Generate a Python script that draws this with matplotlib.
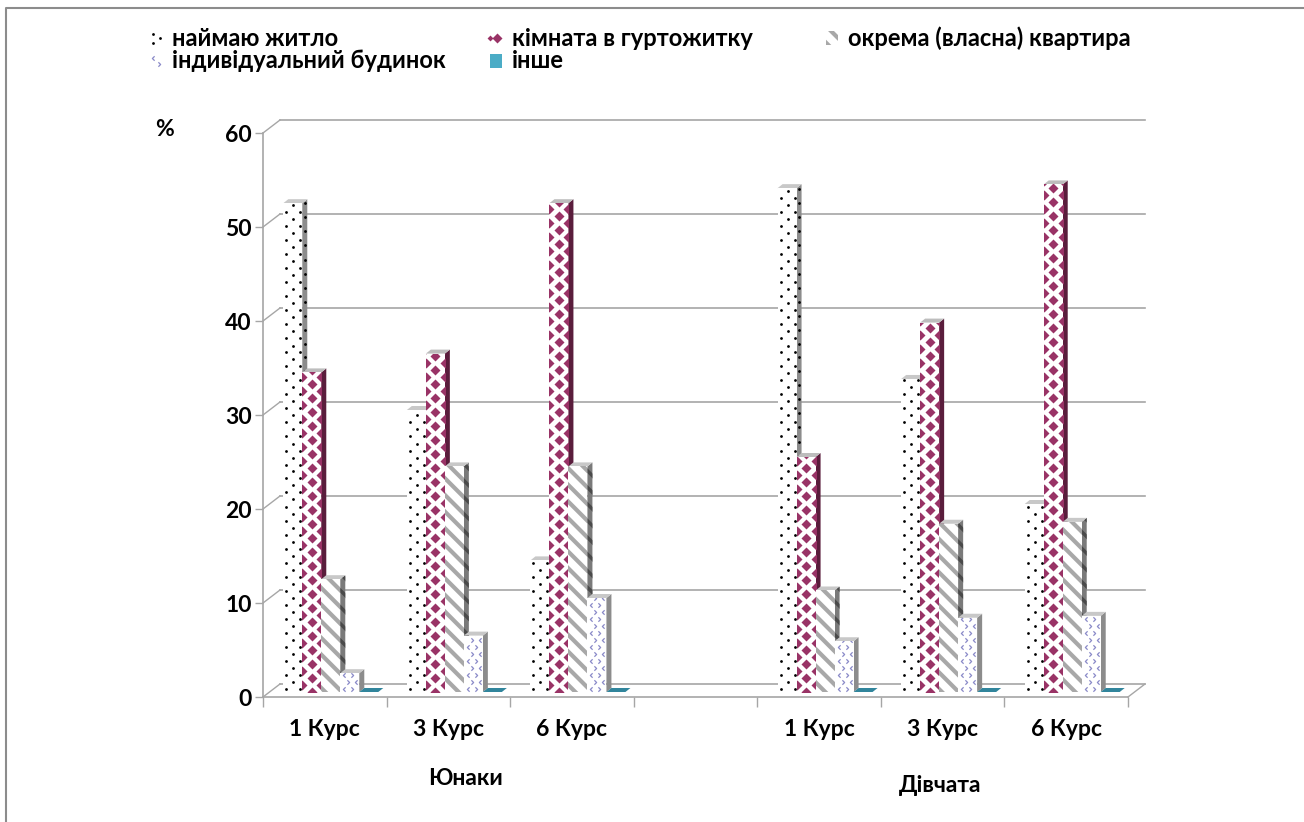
import numpy as np
import matplotlib
matplotlib.use("Agg")
import matplotlib.pyplot as plt
from matplotlib.patches import Polygon, Rectangle
from matplotlib.path import Path

plt.rcParams['font.family'] = ['Lato', 'DejaVu Sans']
plt.rcParams['font.weight'] = 'bold'

# ---------------- data ----------------
categories = ["1 Курс", "3 Курс", "6 Курс", "", "1 Курс", "3 Курс", "6 Курс"]
group_labels = ["Юнаки", "Дівчата"]
series_labels = ["наймаю житло", "кімната в гуртожитку",
                 "окрема (власна) квартира", "індивідуальний будинок", "інше"]
rent_housing = [52, 30, 14, np.nan, 53.6, 33.3, 20]
dorm_room = [34, 36, 52, np.nan, 25, 39.3, 54]
own_flat = [12, 24, 24, np.nan, 10.8, 17.9, 18.1]
private_house = [2, 6, 10, np.nan, 5.4, 7.9, 8.1]
other = [0, 0, 0, np.nan, 0, 0, 0]
y_ticks = [0, 10, 20, 30, 40, 50, 60]
y_unit = "%"

series = [rent_housing, dorm_room, own_flat, private_house, other]

FS_TICK = 16.5
FS_LEG = 17

# ---------------- figure / geometry ----------------
W, H = 1304, 822
fig = plt.figure(figsize=(W / 100, H / 100), dpi=100)

AX_L, AX_R, AX_T, AX_B = 263, 1128, 133, 697
ax = fig.add_axes([AX_L / W, 1 - AX_B / H, (AX_R - AX_L) / W, (AX_B - AX_T) / H])
ncat = len(categories)
ax.set_xlim(0, ncat)
ax.set_ylim(0, 60)
ax.set_autoscale_on(False)
ax.patch.set_visible(False)

PX_X = ncat / (AX_R - AX_L)
PX_Y = 60 / (AX_B - AX_T)

GRID = '#a6a6a6'
wall_dx, wall_dy = 17 * PX_X, 13 * PX_Y

# back wall gridlines + side wall diagonals
for v in y_ticks:
    ax.plot([wall_dx, ncat + wall_dx], [v + wall_dy, v + wall_dy], color=GRID, lw=1.2,
            clip_on=False, zorder=1)
    ax.plot([0, wall_dx], [v, v + wall_dy], color=GRID, lw=1.0, clip_on=False, zorder=1)
# floor right edge
ax.plot([ncat, ncat + wall_dx], [0, wall_dy], color=GRID, lw=1.0, clip_on=False, zorder=1)

for s in ['top', 'right']:
    ax.spines[s].set_visible(False)
for s in ['left', 'bottom']:
    ax.spines[s].set_color(GRID)
    ax.spines[s].set_linewidth(1.2)

ax.set_yticks(y_ticks)
ax.set_yticklabels([str(t) for t in y_ticks], fontsize=FS_TICK, fontweight='bold')
ax.tick_params(axis='y', length=6, color=GRID, width=1, pad=2)
ax.set_xticks(np.arange(ncat + 1))
ax.set_xticklabels([])
ax.tick_params(axis='x', which='major', length=7, color=GRID, width=1)
ax.set_xticks(np.arange(ncat) + 0.5, minor=True)
ax.set_xticklabels(categories, minor=True, fontsize=FS_TICK, fontweight='bold')
ax.tick_params(axis='x', which='minor', length=0, pad=16)

# ---------------- bars ----------------
bar_w = 19 * PX_X
bfx, bfy = 6 * PX_X, 5 * PX_Y
ddx, ddy = 5 * PX_X, 4 * PX_Y

front_styles = [
    dict(fc='white', ec='white'),
    dict(fc='white', ec='white'),
    dict(fc='white', hatch='\\\\', ec='#a8a8a8'),
    dict(fc='white', ec='white'),
    dict(fc='#31859C', ec='#31859C'),
]
side_colors = ['#8c8c8c', '#5a1d3c', '#7a7a7a', '#8c8c8c', '#215f70']
top_colors = ['#c8c8c8', '#bdbdbd', '#c8c8c8', '#c8c8c8', '#31859C']

DIAMOND = '#993366'
CHEV = '#8a8ac8'
chev_l = Path([(0.5, 1), (-0.5, 0), (0.5, -1)], [Path.MOVETO, Path.LINETO, Path.LINETO])
chev_r = Path([(-0.5, 1), (0.5, 0), (-0.5, -1)], [Path.MOVETO, Path.LINETO, Path.LINETO])


def set_hlw(p, lw):
    try:
        p.set_hatch_linewidth(lw)
    except Exception:
        pass


for j, vals in enumerate(series):
    for i, v in enumerate(vals):
        if np.isnan(v):
            continue
        x0 = i + 0.5 - 2.5 * bar_w + j * bar_w + bfx
        y0 = bfy
        x1 = x0 + bar_w
        y1 = y0 + v
        z = 3 + j * 0.1
        if v <= 0:
            top = Polygon([(x0, y0), (x0 + ddx, y0 + ddy), (x1 + ddx, y0 + ddy), (x1, y0)],
                          closed=True, fc=top_colors[j], ec='none', zorder=z)
            ax.add_patch(top)
            continue
        side = Polygon([(x1, y0), (x1 + ddx, y0 + ddy), (x1 + ddx, y1 + ddy), (x1, y1)],
                       closed=True, fc=side_colors[j], ec='none', zorder=z)
        if j == 2:
            side.set_hatch('\\\\'); side.set_edgecolor('#4a4a4a'); side.set_linewidth(0)
            set_hlw(side, 2.5)
        ax.add_patch(side)
        top = Polygon([(x0, y1), (x0 + ddx, y1 + ddy), (x1 + ddx, y1 + ddy), (x1, y1)],
                      closed=True, fc=top_colors[j], ec='none', zorder=z)
        ax.add_patch(top)
        st = front_styles[j]
        front = Rectangle((x0, y0), bar_w, v, fc=st['fc'], ec=st['ec'], lw=0,
                          hatch=st.get('hatch'), zorder=z)
        if j == 2:
            set_hlw(front, 3.0)
        ax.add_patch(front)
        if j == 0:
            step = 7 * PX_Y
            n = int(v / step) + 1
            xs, ys, sx, sy = [], [], [], []
            for k in range(n):
                yy = y0 + (k + 0.5) * step
                if k % 2 == 0:
                    xs += [x0 + 3 * PX_X, x0 + 17 * PX_X]; ys += [yy, yy]
                else:
                    xs += [x0 + 10 * PX_X]; ys += [yy]
                    sx += [x1 + 2.5 * PX_X]; sy += [yy + 2 * PX_Y]
            ln, = ax.plot(xs, ys, 'o', ms=2.0, color='black', mec='none', zorder=z + 0.01)
            ln.set_clip_path(front)
            ln2, = ax.plot(sx, sy, 'o', ms=2.0, color='black', mec='none', zorder=z + 0.005)
            ln2.set_clip_path(side)
        if j == 1:
            step = 7 * PX_Y
            n = int(v / step) + 2
            xs, ys = [], []
            for k in range(n):
                yy = y0 + k * step
                if k % 2 == 0:
                    xs += [x0 + bar_w / 2]; ys += [yy]
                else:
                    xs += [x0, x1]; ys += [yy, yy]
            ln, = ax.plot(xs, ys, 'D', ms=5.4, color=DIAMOND, mec='none', zorder=z + 0.01)
            ln.set_clip_path(front)
        if j == 3:
            step = 7 * PX_Y
            n = int(v / step) + 1
            for k in range(n):
                yy = y0 + (k + 0.5) * step
                if k % 2 == 0:
                    pts = [(x0 + 4 * PX_X, chev_l), (x0 + 12 * PX_X, chev_r)]
                else:
                    pts = [(x0 + 8 * PX_X, chev_r), (x0 + 16 * PX_X, chev_l)]
                for xx, mk in pts:
                    ln, = ax.plot([xx], [yy], marker=mk, ms=3.2, mfc='none', mec=CHEV,
                                  mew=0.9, zorder=z + 0.01)
                    ln.set_clip_path(front)

# ---------------- overlay (legend, labels, border) in pixel coords ----------------
ov = fig.add_axes([0, 0, 1, 1])
ov.set_xlim(0, W)
ov.set_ylim(H, 0)
ov.axis('off')
ov.patch.set_visible(False)

# outer border
ov.plot([6, 6, W + 5], [H + 5, 8, 8], color='#8c8c8c', lw=1.5, clip_on=False)

# group labels and unit
ov.text(466, 778, group_labels[0], fontsize=FS_TICK, fontweight='bold', ha='center', va='center')
ov.text(940, 785, group_labels[1], fontsize=FS_TICK, fontweight='bold', ha='center', va='center')
ov.text(164, 130, y_unit, fontsize=FS_TICK, fontweight='bold', ha='center', va='center')

# legend
leg_pos = [(150, 38), (490, 38), (826, 38), (150, 61), (490, 61)]
for j, (lx, ly) in enumerate(leg_pos):
    st = front_styles[j]
    r = Rectangle((lx, ly - 7), 12, 14, fc=st['fc'], ec=st['ec'], lw=0, hatch=st.get('hatch'))
    if j == 2:
        set_hlw(r, 3.0)
    if j == 4:
        r.set_facecolor('#4BACC6'); r.set_edgecolor('#4BACC6')
    ov.add_patch(r)
    if j == 0:
        ov.plot([lx + 3, lx + 10, lx + 3], [ly - 4, ly, ly + 5], 'o', ms=2.0, color='black',
                mec='none')
    if j == 1:
        ov.plot([lx + 7], [ly], 'D', ms=5.4, color=DIAMOND, mec='none')
        ov.plot([lx], [ly], 'D', ms=3, color=DIAMOND, mec='none')
    if j == 3:
        ov.plot([lx + 3], [ly - 3], marker=chev_l, ms=3.2, mfc='none', mec=CHEV, mew=0.9)
        ov.plot([lx + 9], [ly + 3], marker=chev_r, ms=3.2, mfc='none', mec=CHEV, mew=0.9)
    ov.text(lx + 22, ly, series_labels[j], fontsize=FS_LEG, fontweight='bold',
            ha='left', va='center')

fig.savefig('out.png', dpi=100, facecolor='white')
